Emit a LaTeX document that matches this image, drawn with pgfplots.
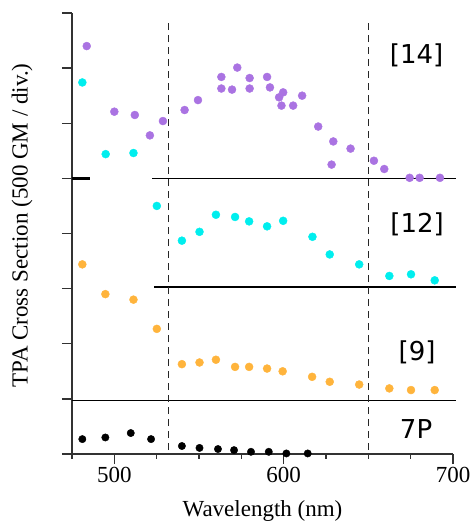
\documentclass[border=0pt]{standalone}
\usepackage{fontspec}
\setmainfont{Liberation Serif}
\newfontfamily\labfont{DejaVu Sans}
\usepackage{pgfplots}
\pgfplotsset{compat=1.18}

\definecolor{cpurple}{RGB}{170,115,226}
\definecolor{ccyan}{RGB}{0,238,238}
\definecolor{corange}{RGB}{255,180,60}
\definecolor{axgray}{RGB}{50,50,50}

\begin{document}
\begin{tikzpicture}
\begin{axis}[
    at={(0,0)}, anchor=south west,
    scale only axis,
    width=381pt, height=441pt,
    xmin=475, xmax=700,
    ymin=0, ymax=8,
    axis x line*=bottom,
    axis y line*=left,
    axis line style={axgray, line width=1.5pt, -},
    tick style={axgray, line width=1.3pt},
    tick align=outside,
    major tick length=10pt,
    minor tick length=5pt,
    xtick={500,600,700},
    minor xtick={475,525,550,575,625,650,675},
    ytick={0,1,...,8},
    yticklabels={},
    clip=false,
    font=\fontsize{23}{27}\selectfont,
    ticklabel style={font=\fontsize{23}{27}\selectfont},
    /pgf/number format/assume math mode=true,
    /pgf/number format/1000 sep={},
    xlabel={Wavelength (nm)},
    xlabel style={at={(axis description cs:0.5,0)}, anchor=base, yshift=-62.7pt},
    ylabel={TPA Cross Section (500 GM / div.)},
    ylabel style={at={(axis description cs:-0.1312,0.518)}, anchor=center},
]
% baselines
\addplot[black, line width=1.3pt] coordinates {(522.3,5) (701.5,5)};
\addplot[black, line width=3pt] coordinates {(475,5) (485.6,5)};
\addplot[black, line width=1.3pt] coordinates {(523.5,3.03) (701.5,3.03)};
\addplot[black, line width=1.3pt] coordinates {(475,0.97) (701.5,0.97)};
% dashed markers
\addplot[black!85, line width=1.6pt, dash pattern=on 7pt off 5pt] coordinates {(532,0.07) (532,7.84)};
\addplot[black!85, line width=1.6pt, dash pattern=on 7pt off 5pt] coordinates {(650,0.07) (650,7.84)};

% [14]
\addplot[only marks, mark=*, mark size=4pt, mark options={draw=cpurple, fill=cpurple}] coordinates {
 (483.7,7.40) (500,6.21) (512.1,6.15) (521,5.78) (528.7,6.04) (541.5,6.24) (549.4,6.42)
 (563.2,6.84) (563.2,6.63) (569.5,6.61) (572.6,7.01) (579.9,6.82) (579.9,6.63)
 (590.2,6.84) (591.9,6.65) (597.3,6.47) (599.7,6.56) (598.7,6.32) (605.6,6.32)
 (610.9,6.50) (620.4,5.94) (629.3,5.67) (628.3,5.25) (639.5,5.54) (653.3,5.32)
 (659.4,5.17) (674.4,5.01) (680.3,5.01) (692.3,5.01)
};
% [12]
\addplot[only marks, mark=*, mark size=4pt, mark options={draw=ccyan, fill=ccyan}] coordinates {
 (481.1,6.74) (494.9,5.44) (511.3,5.46) (525.1,4.50) (539.9,3.87) (550.3,4.03)
 (560,4.34) (571.3,4.30) (579.6,4.22) (590.2,4.13) (599.7,4.23) (617,3.94)
 (627.2,3.62) (644.6,3.44) (662.4,3.23) (675.2,3.26) (689.2,3.15)
};
% [9]
\addplot[only marks, mark=*, mark size=4pt, mark options={draw=corange, fill=corange}] coordinates {
 (481.1,3.44) (494.7,2.90) (511.3,2.80) (525.1,2.27) (539.9,1.63) (550.3,1.66)
 (560,1.71) (571.3,1.58) (579.6,1.58) (590.2,1.55) (599.4,1.50) (616.8,1.40)
 (627.2,1.31) (644.6,1.26) (662.4,1.19) (675.2,1.16) (689.2,1.16)
};
% 7P
\addplot[only marks, mark=*, mark size=3.7pt, mark options={draw=black, fill=black}] coordinates {
 (481.1,0.27) (494.7,0.30) (509.7,0.38) (521.7,0.27) (539.9,0.145) (550.3,0.11)
 (561.2,0.09) (570.7,0.07) (580.7,0.04) (591.2,0.04) (601.6,0.01) (614.2,0.01)
};

\node[font=\labfont\fontsize{26}{30}\selectfont] at (axis cs:678.5,7.24) {[14]};
\node[font=\labfont\fontsize{26}{30}\selectfont] at (axis cs:678.8,4.17) {[12]};
\node[font=\labfont\fontsize{26}{30}\selectfont] at (axis cs:678.8,1.85) {[9]};
\node[font=\labfont\fontsize{26}{30}\selectfont] at (axis cs:678.2,0.45) {7P};
\end{axis}
\pgfresetboundingbox
\path[use as bounding box] (-72pt,-72pt) rectangle (398pt,454pt);
\end{tikzpicture}
\end{document}
